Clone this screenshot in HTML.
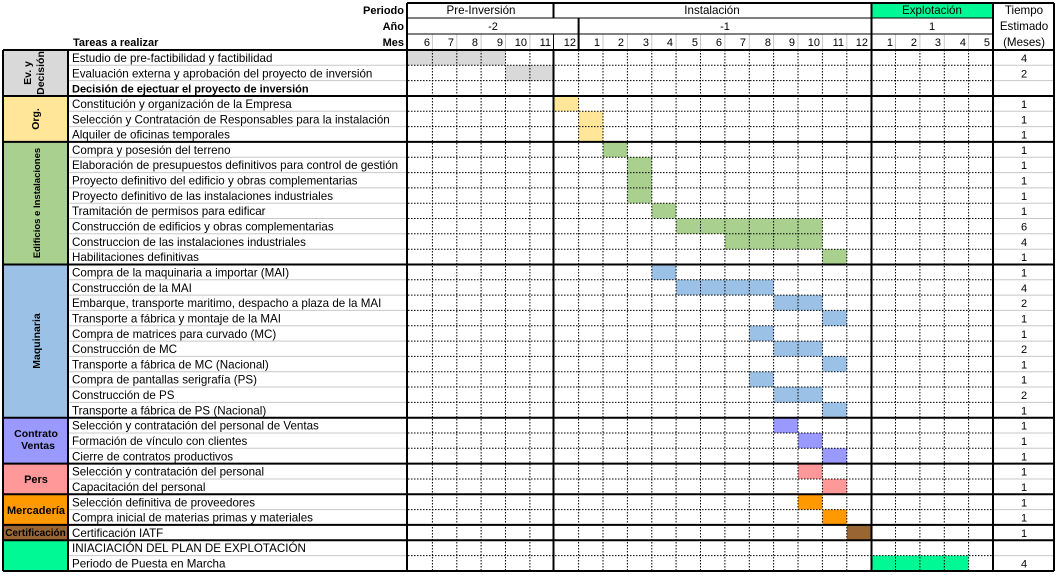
<!DOCTYPE html>
<html><head><meta charset="utf-8"><style>
html,body{margin:0;padding:0;background:#fff;width:1058px;height:575px;overflow:hidden}
svg{display:block}
text{font-family:"Liberation Sans",sans-serif;font-size:11px;fill:#000}
.tk text{font-size:11.6px}
.b{font-weight:bold}
.d line{stroke:#000;stroke-width:1;stroke-dasharray:1.5 1.5}
.g line{stroke:#c8c8c8;stroke-width:1}
.t line{stroke:#000;stroke-width:2}
.n line{stroke:#000;stroke-width:1}
</style></head><body>
<svg width="1058" height="575" viewBox="0 0 1058 575" xmlns="http://www.w3.org/2000/svg">
<rect x="3" y="50" width="65" height="46" fill="#d9d9d9"/>
<rect x="3" y="96" width="65" height="45.9" fill="#ffe699"/>
<rect x="3" y="141.9" width="65" height="122.6" fill="#a9d08e"/>
<rect x="3" y="264.5" width="65" height="153.2" fill="#9bc2e6"/>
<rect x="3" y="417.7" width="65" height="45.9" fill="#9999ff"/>
<rect x="3" y="463.6" width="65" height="30.7" fill="#ff9999"/>
<rect x="3" y="494.3" width="65" height="30.6" fill="#ff9900"/>
<rect x="3" y="524.9" width="65" height="15.3" fill="#996633"/>
<rect x="3" y="540.2" width="65" height="30.7" fill="#00f994"/>
<rect x="872" y="3" width="121" height="15" fill="#00f994"/>
<g>
<rect x="408" y="50" width="97.5" height="15.3" fill="#d9d9d9"/>
<rect x="505.5" y="65.3" width="48.8" height="15.3" fill="#d9d9d9"/>
<rect x="554.3" y="96" width="24.3" height="15.3" fill="#ffe699"/>
<rect x="578.6" y="111.3" width="24.4" height="15.3" fill="#ffe699"/>
<rect x="578.6" y="126.6" width="24.4" height="15.3" fill="#ffe699"/>
<rect x="603" y="141.9" width="24.4" height="15.3" fill="#a9d08e"/>
<rect x="627.4" y="157.2" width="24.4" height="15.4" fill="#a9d08e"/>
<rect x="627.4" y="172.6" width="24.4" height="15.3" fill="#a9d08e"/>
<rect x="627.4" y="187.9" width="24.4" height="15.3" fill="#a9d08e"/>
<rect x="651.8" y="203.2" width="24.3" height="15.3" fill="#a9d08e"/>
<rect x="676.1" y="218.5" width="146.3" height="15.3" fill="#a9d08e"/>
<rect x="724.9" y="233.8" width="97.5" height="15.4" fill="#a9d08e"/>
<rect x="822.4" y="249.2" width="24.4" height="15.3" fill="#a9d08e"/>
<rect x="651.8" y="264.5" width="24.3" height="15.3" fill="#9bc2e6"/>
<rect x="676.1" y="279.8" width="97.5" height="15.3" fill="#9bc2e6"/>
<rect x="773.6" y="295.1" width="48.8" height="15.3" fill="#9bc2e6"/>
<rect x="822.4" y="310.4" width="24.4" height="15.4" fill="#9bc2e6"/>
<rect x="749.3" y="325.8" width="24.3" height="15.3" fill="#9bc2e6"/>
<rect x="773.6" y="341.1" width="48.8" height="15.3" fill="#9bc2e6"/>
<rect x="822.4" y="356.4" width="24.4" height="15.3" fill="#9bc2e6"/>
<rect x="749.3" y="371.7" width="24.3" height="15.3" fill="#9bc2e6"/>
<rect x="773.6" y="387" width="48.8" height="15.4" fill="#9bc2e6"/>
<rect x="822.4" y="402.4" width="24.4" height="15.3" fill="#9bc2e6"/>
<rect x="773.6" y="417.7" width="24.4" height="15.3" fill="#9999ff"/>
<rect x="798" y="433" width="24.4" height="15.3" fill="#9999ff"/>
<rect x="822.4" y="448.3" width="24.4" height="15.3" fill="#9999ff"/>
<rect x="798" y="463.6" width="24.4" height="15.4" fill="#ff9999"/>
<rect x="822.4" y="479" width="24.4" height="15.3" fill="#ff9999"/>
<rect x="798" y="494.3" width="24.4" height="15.3" fill="#ff9900"/>
<rect x="822.4" y="509.6" width="24.4" height="15.3" fill="#ff9900"/>
<rect x="846.8" y="524.9" width="24.3" height="15.3" fill="#996633"/>
<rect x="871.1" y="555.6" width="97.5" height="15.3" fill="#00f994"/>
</g>
<g class="g">
<line x1="68" x2="407" y1="65.3" y2="65.3"/><line x1="68" x2="407" y1="80.6" y2="80.6"/>
<line x1="68" x2="407" y1="111.3" y2="111.3"/><line x1="68" x2="407" y1="126.6" y2="126.6"/>
<line x1="68" x2="407" y1="157.2" y2="157.2"/><line x1="68" x2="407" y1="172.6" y2="172.6"/><line x1="68" x2="407" y1="187.9" y2="187.9"/><line x1="68" x2="407" y1="203.2" y2="203.2"/><line x1="68" x2="407" y1="218.5" y2="218.5"/><line x1="68" x2="407" y1="233.8" y2="233.8"/><line x1="68" x2="407" y1="249.2" y2="249.2"/>
<line x1="68" x2="407" y1="279.8" y2="279.8"/><line x1="68" x2="407" y1="295.1" y2="295.1"/><line x1="68" x2="407" y1="310.4" y2="310.4"/><line x1="68" x2="407" y1="325.8" y2="325.8"/><line x1="68" x2="407" y1="341.1" y2="341.1"/><line x1="68" x2="407" y1="356.4" y2="356.4"/><line x1="68" x2="407" y1="371.7" y2="371.7"/><line x1="68" x2="407" y1="387" y2="387"/><line x1="68" x2="407" y1="402.4" y2="402.4"/>
<line x1="68" x2="407" y1="433" y2="433"/><line x1="68" x2="407" y1="448.3" y2="448.3"/>
<line x1="68" x2="407" y1="479" y2="479"/><line x1="68" x2="407" y1="509.6" y2="509.6"/><line x1="68" x2="407" y1="555.6" y2="555.6"/>
<line x1="993" x2="1054" y1="65.3" y2="65.3"/><line x1="993" x2="1054" y1="80.6" y2="80.6"/>
<line x1="993" x2="1054" y1="111.3" y2="111.3"/><line x1="993" x2="1054" y1="126.6" y2="126.6"/>
<line x1="993" x2="1054" y1="157.2" y2="157.2"/><line x1="993" x2="1054" y1="172.6" y2="172.6"/><line x1="993" x2="1054" y1="187.9" y2="187.9"/><line x1="993" x2="1054" y1="203.2" y2="203.2"/><line x1="993" x2="1054" y1="218.5" y2="218.5"/><line x1="993" x2="1054" y1="233.8" y2="233.8"/><line x1="993" x2="1054" y1="249.2" y2="249.2"/>
<line x1="993" x2="1054" y1="279.8" y2="279.8"/><line x1="993" x2="1054" y1="295.1" y2="295.1"/><line x1="993" x2="1054" y1="310.4" y2="310.4"/><line x1="993" x2="1054" y1="325.8" y2="325.8"/><line x1="993" x2="1054" y1="341.1" y2="341.1"/><line x1="993" x2="1054" y1="356.4" y2="356.4"/><line x1="993" x2="1054" y1="371.7" y2="371.7"/><line x1="993" x2="1054" y1="387" y2="387"/><line x1="993" x2="1054" y1="402.4" y2="402.4"/>
<line x1="993" x2="1054" y1="433" y2="433"/><line x1="993" x2="1054" y1="448.3" y2="448.3"/>
<line x1="993" x2="1054" y1="479" y2="479"/><line x1="993" x2="1054" y1="509.6" y2="509.6"/><line x1="993" x2="1054" y1="555.6" y2="555.6"/>
<line x1="432.4" x2="432.4" y1="34" y2="50"/><line x1="456.8" x2="456.8" y1="34" y2="50"/><line x1="481.1" x2="481.1" y1="34" y2="50"/><line x1="505.5" x2="505.5" y1="34" y2="50"/><line x1="529.9" x2="529.9" y1="34" y2="50"/>
<line x1="603" x2="603" y1="34" y2="50"/><line x1="627.4" x2="627.4" y1="34" y2="50"/><line x1="651.8" x2="651.8" y1="34" y2="50"/><line x1="676.1" x2="676.1" y1="34" y2="50"/><line x1="700.5" x2="700.5" y1="34" y2="50"/><line x1="724.9" x2="724.9" y1="34" y2="50"/><line x1="749.3" x2="749.3" y1="34" y2="50"/><line x1="773.6" x2="773.6" y1="34" y2="50"/><line x1="798" x2="798" y1="34" y2="50"/><line x1="822.4" x2="822.4" y1="34" y2="50"/><line x1="846.8" x2="846.8" y1="34" y2="50"/>
<line x1="895.5" x2="895.5" y1="34" y2="50"/><line x1="919.9" x2="919.9" y1="34" y2="50"/><line x1="944.3" x2="944.3" y1="34" y2="50"/><line x1="968.6" x2="968.6" y1="34" y2="50"/>
</g>
<g class="d">
<line x1="408" x2="993" y1="65.3" y2="65.3"/><line x1="408" x2="993" y1="80.6" y2="80.6"/>
<line x1="408" x2="993" y1="111.3" y2="111.3"/><line x1="408" x2="993" y1="126.6" y2="126.6"/>
<line x1="408" x2="993" y1="157.2" y2="157.2"/><line x1="408" x2="993" y1="172.6" y2="172.6"/><line x1="408" x2="993" y1="187.9" y2="187.9"/><line x1="408" x2="993" y1="203.2" y2="203.2"/><line x1="408" x2="993" y1="218.5" y2="218.5"/><line x1="408" x2="993" y1="233.8" y2="233.8"/><line x1="408" x2="993" y1="249.2" y2="249.2"/>
<line x1="408" x2="993" y1="279.8" y2="279.8"/><line x1="408" x2="993" y1="295.1" y2="295.1"/><line x1="408" x2="993" y1="310.4" y2="310.4"/><line x1="408" x2="993" y1="325.8" y2="325.8"/><line x1="408" x2="993" y1="341.1" y2="341.1"/><line x1="408" x2="993" y1="356.4" y2="356.4"/><line x1="408" x2="993" y1="371.7" y2="371.7"/><line x1="408" x2="993" y1="387" y2="387"/><line x1="408" x2="993" y1="402.4" y2="402.4"/>
<line x1="408" x2="993" y1="433" y2="433"/><line x1="408" x2="993" y1="448.3" y2="448.3"/>
<line x1="408" x2="993" y1="479" y2="479"/><line x1="408" x2="993" y1="509.6" y2="509.6"/><line x1="408" x2="993" y1="555.6" y2="555.6"/>
<line x1="432.4" x2="432.4" y1="50" y2="571"/><line x1="456.8" x2="456.8" y1="50" y2="571"/><line x1="481.1" x2="481.1" y1="50" y2="571"/><line x1="505.5" x2="505.5" y1="50" y2="571"/><line x1="529.9" x2="529.9" y1="50" y2="571"/>
<line x1="578.6" x2="578.6" y1="50" y2="571"/><line x1="603" x2="603" y1="50" y2="571"/><line x1="627.4" x2="627.4" y1="50" y2="571"/><line x1="651.8" x2="651.8" y1="50" y2="571"/><line x1="676.1" x2="676.1" y1="50" y2="571"/><line x1="700.5" x2="700.5" y1="50" y2="571"/><line x1="724.9" x2="724.9" y1="50" y2="571"/><line x1="749.3" x2="749.3" y1="50" y2="571"/><line x1="773.6" x2="773.6" y1="50" y2="571"/><line x1="798" x2="798" y1="50" y2="571"/><line x1="822.4" x2="822.4" y1="50" y2="571"/><line x1="846.8" x2="846.8" y1="50" y2="571"/>
<line x1="895.5" x2="895.5" y1="50" y2="571"/><line x1="919.9" x2="919.9" y1="50" y2="571"/><line x1="944.3" x2="944.3" y1="50" y2="571"/><line x1="968.6" x2="968.6" y1="50" y2="571"/>
</g>
<g class="n">
<line x1="408" x2="993" y1="18" y2="18"/><line x1="408" x2="993" y1="34" y2="34"/>
<line x1="553.5" x2="553.5" y1="34" y2="50"/>
</g>
<g class="t">
<line x1="407" x2="1054" y1="3" y2="3"/>
<line x1="3" x2="1054" y1="50" y2="50"/>
<line x1="3" x2="1054" y1="96" y2="96"/><line x1="3" x2="1054" y1="141.9" y2="141.9"/><line x1="3" x2="1054" y1="264.5" y2="264.5"/><line x1="3" x2="1054" y1="417.7" y2="417.7"/><line x1="3" x2="1054" y1="463.6" y2="463.6"/><line x1="3" x2="1054" y1="494.3" y2="494.3"/><line x1="3" x2="1054" y1="524.9" y2="524.9"/><line x1="3" x2="1054" y1="540.2" y2="540.2"/>
<line x1="3" x2="1054" y1="571" y2="571"/>
<line x1="3" x2="3" y1="50" y2="571"/><line x1="68" x2="68" y1="50" y2="571"/>
<line x1="407" x2="407" y1="3" y2="571"/>
<line x1="553.5" x2="553.5" y1="3" y2="18"/><line x1="553.5" x2="553.5" y1="50" y2="571"/>
<line x1="578.6" x2="578.6" y1="18" y2="50"/>
<line x1="871.5" x2="871.5" y1="3" y2="571"/>
<line x1="993" x2="993" y1="3" y2="571"/>
<line x1="1054" x2="1054" y1="3" y2="571"/>
</g>
<text class="b" x="404" y="14" text-anchor="end">Periodo</text>
<text class="b" x="404" y="30" text-anchor="end">Año</text>
<text class="b" x="404" y="46" text-anchor="end">Mes</text>
<text class="b" x="73" y="46">Tareas a realizar</text>
<text x="481" y="14" text-anchor="middle" style="font-size:11.6px">Pre-Inversión</text>
<text x="712" y="14" text-anchor="middle" style="font-size:11.6px">Instalación</text>
<text x="932" y="14" text-anchor="middle" style="font-size:11.6px">Explotación</text>
<text x="493" y="30" text-anchor="middle">-2</text>
<text x="725" y="30" text-anchor="middle">-1</text>
<text x="932" y="30" text-anchor="middle">1</text>
<text x="1024" y="14" text-anchor="middle" style="font-size:11.6px">Tiempo</text>
<text x="1024" y="30" text-anchor="middle" style="font-size:11.6px">Estimado</text>
<text x="1024" y="46" text-anchor="middle" style="font-size:11.6px">(Meses)</text>
<g text-anchor="end">
<text x="430" y="46">6</text><text x="454" y="46">7</text><text x="478" y="46">8</text><text x="503" y="46">9</text><text x="527" y="46">10</text><text x="551" y="46">11</text><text x="576" y="46">12</text>
<text x="600" y="46">1</text><text x="624" y="46">2</text><text x="649" y="46">3</text><text x="673" y="46">4</text><text x="698" y="46">5</text><text x="722" y="46">6</text><text x="746" y="46">7</text><text x="771" y="46">8</text><text x="795" y="46">9</text><text x="820" y="46">10</text><text x="844" y="46">11</text><text x="868" y="46">12</text>
<text x="893" y="46">1</text><text x="917" y="46">2</text><text x="941" y="46">3</text><text x="966" y="46">4</text><text x="990" y="46">5</text>
</g>
<g class="b" text-anchor="middle">
<text transform="translate(31,73) rotate(-90)" style="font-size:10.5px">Ev. y</text>
<text transform="translate(44,73) rotate(-90)" style="font-size:10.5px">Decisión</text>
<text transform="translate(39,119) rotate(-90)" style="font-size:10.5px">Org.</text>
<text transform="translate(40,203) rotate(-90)" style="font-size:9.5px">Edificios e Instalaciones</text>
<text transform="translate(40,341) rotate(-90)" style="font-size:10.5px">Maquinaria</text>
<text x="36" y="437" style="font-size:10.5px">Contrato</text>
<text x="38" y="449" style="font-size:10.5px">Ventas</text>
<text x="36" y="483" style="font-size:11px">Pers</text>
<text x="36" y="514" style="font-size:11px">Mercadería</text>
<text x="35.5" y="536" style="font-size:10px">Certificación</text>
</g>
<g class="tk">
<text x="72" y="62">Estudio de pre-factibilidad y factibilidad</text>
<text x="72" y="77.3">Evaluación externa y aprobación del proyecto de inversión</text>
<text class="b" x="72" y="92.6" style="font-size:11px">Decisión de ejectuar el proyecto de inversión</text>
<text x="72" y="108">Constitución y organización de la Empresa</text>
<text x="72" y="123.3">Selección y Contratación de Responsables para la instalación</text>
<text x="72" y="138.6">Alquiler de oficinas temporales</text>
<text x="72" y="153.9">Compra y posesión del terreno</text>
<text x="72" y="169.2">Elaboración de presupuestos definitivos para control de gestión</text>
<text x="72" y="184.6">Proyecto definitivo del edificio y obras complementarias</text>
<text x="72" y="199.9">Proyecto definitivo de las instalaciones industriales</text>
<text x="72" y="215.2">Tramitación de permisos para edificar</text>
<text x="72" y="230.5">Construcción de edificios y obras complementarias</text>
<text x="72" y="245.8">Construccion de las instalaciones industriales</text>
<text x="72" y="261.2">Habilitaciones definitivas</text>
<text x="72" y="276.5">Compra de la maquinaria a importar (MAI)</text>
<text x="72" y="291.8">Construcción de la MAI</text>
<text x="72" y="307.1">Embarque, transporte maritimo, despacho a plaza de la MAI</text>
<text x="72" y="322.4">Transporte a fábrica y montaje de la MAI</text>
<text x="72" y="337.8">Compra de matrices para curvado (MC)</text>
<text x="72" y="353.1">Construcción de MC</text>
<text x="72" y="368.4">Transporte a fábrica de MC (Nacional)</text>
<text x="72" y="383.7">Compra de pantallas serigrafía (PS)</text>
<text x="72" y="399">Construcción de PS</text>
<text x="72" y="414.4">Transporte a fábrica de PS (Nacional)</text>
<text x="72" y="429.7">Selección y contratación del personal de Ventas</text>
<text x="72" y="445">Formación de vínculo con clientes</text>
<text x="72" y="460.3">Cierre de contratos productivos</text>
<text x="72" y="475.6">Selección y contratación del personal</text>
<text x="72" y="491">Capacitación del personal</text>
<text x="72" y="506.3">Selección definitiva de proveedores</text>
<text x="72" y="521.6">Compra inicial de materias primas y materiales</text>
<text x="72" y="536.9">Certificación IATF</text>
<text x="72" y="552.2">INIACIACIÓN DEL PLAN DE EXPLOTACIÓN</text>
<text x="72" y="567.6">Periodo de Puesta en Marcha</text>
</g>
<g text-anchor="middle">
<text x="1024" y="62">4</text><text x="1024" y="77.3">2</text>
<text x="1024" y="108">1</text><text x="1024" y="123.3">1</text><text x="1024" y="138.6">1</text>
<text x="1024" y="153.9">1</text><text x="1024" y="169.2">1</text><text x="1024" y="184.6">1</text><text x="1024" y="199.9">1</text><text x="1024" y="215.2">1</text><text x="1024" y="230.5">6</text><text x="1024" y="245.8">4</text><text x="1024" y="261.2">1</text>
<text x="1024" y="276.5">1</text><text x="1024" y="291.8">4</text><text x="1024" y="307.1">2</text><text x="1024" y="322.4">1</text><text x="1024" y="337.8">1</text><text x="1024" y="353.1">2</text><text x="1024" y="368.4">1</text><text x="1024" y="383.7">1</text><text x="1024" y="399">2</text><text x="1024" y="414.4">1</text>
<text x="1024" y="429.7">1</text><text x="1024" y="445">1</text><text x="1024" y="460.3">1</text>
<text x="1024" y="475.6">1</text><text x="1024" y="491">1</text>
<text x="1024" y="506.3">1</text><text x="1024" y="521.6">1</text>
<text x="1024" y="536.9">1</text>
<text x="1024" y="567.6">4</text>
</g>
</svg>
</body></html>
